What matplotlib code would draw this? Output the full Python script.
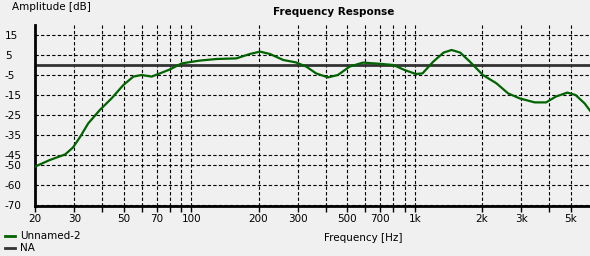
import matplotlib.pyplot as plt
from matplotlib.lines import Line2D

# frequency response (Hz, dB)
freq = [20, 23.3, 27.3, 29.6, 31.9, 34.6, 39, 44, 49.7, 55.1, 59.9, 66.5,
        72.4, 80.3, 90.6, 109, 130, 159, 183, 203, 225, 258, 294, 327, 362,
        409, 453, 511, 587, 697, 802, 900, 1011, 1083, 1210, 1345, 1461,
        1597, 1763, 2017, 2322, 2616, 2946, 3441, 3869, 4274, 4810, 5240,
        5752, 6080]
amp = [-50.8, -47.5, -44.7, -41.2, -35.8, -29.2, -22.5, -16.7, -10, -5.8, -5,
       -5.8, -4.2, -2.2, 0.8, 2.2, 3, 3.3, 5.5, 6.7, 5.5, 2.5, 1.3, -0.8,
       -4.2, -6.2, -5, -0.8, 1.2, 0.6, 0, -2.5, -4.5, -4.2, 1.7, 6.2, 7.5,
       6.2, 1.7, -5, -9.2, -14.2, -16.7, -18.7, -18.7, -15.8, -13.8, -15,
       -19.2, -22.8]

yticks = [15, 5, -5, -15, -25, -35, -45, -50, -60, -70]
xgrid = [30, 40, 50, 60, 70, 80, 90, 100, 200, 300, 400, 500, 600, 700, 800,
         900, 1000, 2000, 3000, 4000, 5000]
xlabels = {20: '20', 30: '30', 50: '50', 70: '70', 100: '100', 200: '200',
           300: '300', 500: '500', 700: '700', 1000: '1k', 2000: '2k',
           3000: '3k', 5000: '5k'}

bg = '#f0f0f0'
green = '#006400'
plt.rcParams['font.family'] = 'DejaVu Sans'
plt.rcParams['font.size'] = 7.5
plt.rcParams['axes.unicode_minus'] = False

fig = plt.figure(figsize=(5.9, 2.56), dpi=100, facecolor=bg)
ax = fig.add_axes([35/590, 1-206/256, 1-35/590, 181/256])
ax.set_facecolor(bg)

ax.axhline(0, color='#333333', lw=2, zorder=2)
ax.plot(freq, amp, color=green, lw=1.6, zorder=3)

ax.set_xscale('log')
ax.set_xlim(20, 6080)
ax.set_ylim(-70.5, 20)

ticks = [20] + xgrid
ax.set_xticks(ticks)
ax.set_xticklabels([xlabels.get(t, '') for t in ticks])
ax.minorticks_off()
ax.set_yticks(yticks)
ax.set_yticklabels([str(v) for v in yticks])
for lab in ax.get_yticklabels():
    lab.set_horizontalalignment('left')

ax.tick_params(axis='y', length=0, pad=21.6)
ax.tick_params(axis='x', length=4, width=1, color='black', pad=2)

for f in xgrid:
    ax.axvline(f, color='black', lw=0.8, ls=(0, (3, 2)), zorder=1)
for v in yticks:
    ax.axhline(v, color='black', lw=0.8, ls=(0, (3, 2)), zorder=1)

for s in ['top', 'right']:
    ax.spines[s].set_visible(False)
ax.spines['left'].set_linewidth(2)
ax.spines['bottom'].set_linewidth(2)

fig.text(12/590, 1-7/256, 'Amplitude [dB]', ha='left', va='center')
fig.text(334/590, 1-12/256, 'Frequency Response', ha='center', va='center',
         fontweight='bold')
fig.text(363/590, 1-238/256, 'Frequency [Hz]', ha='center', va='center')

# legend drawn at the bottom left
fig.add_artist(Line2D([5/590, 15/590], [1-236/256, 1-236/256], color=green, lw=2))
fig.add_artist(Line2D([5/590, 15/590], [1-248/256, 1-248/256], color='#333333', lw=2))
fig.text(20/590, 1-236/256, 'Unnamed-2', ha='left', va='center')
fig.text(20/590, 1-248/256, 'NA', ha='left', va='center')

fig.savefig('out.png', dpi=100, facecolor=bg)
